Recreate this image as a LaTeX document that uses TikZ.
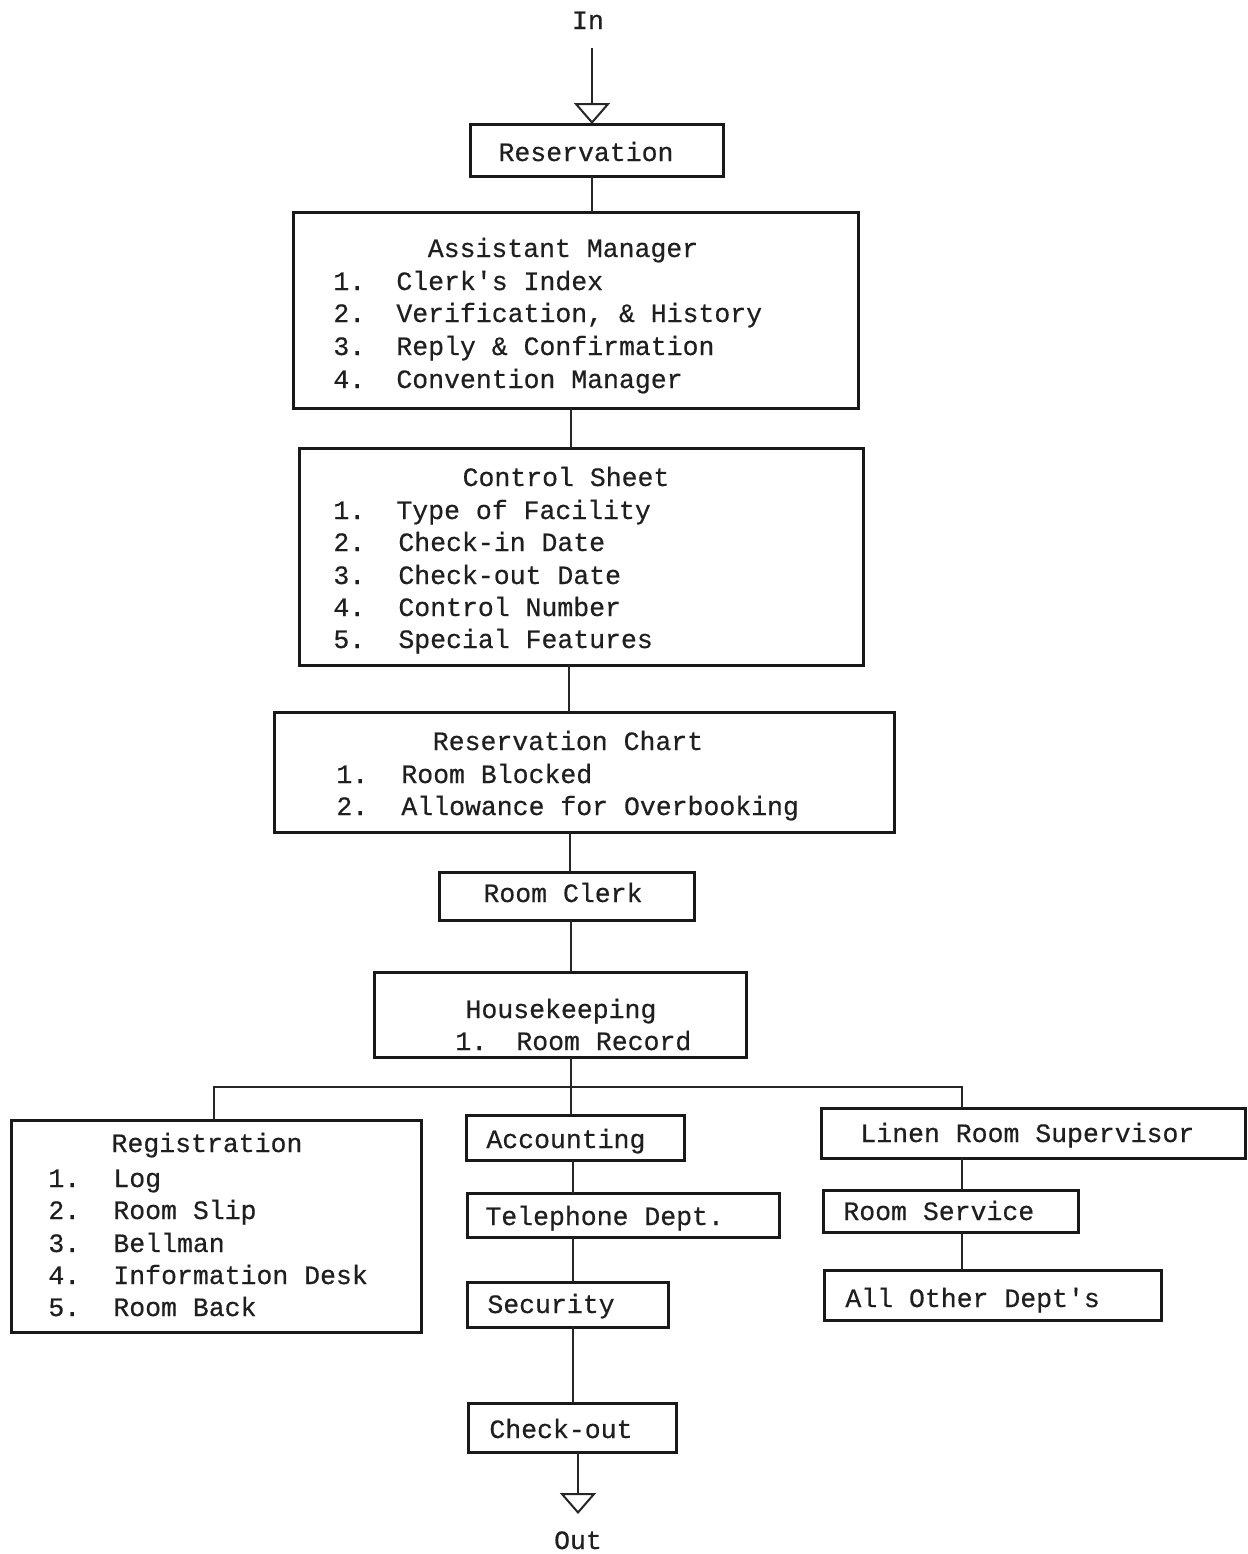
\documentclass[tikz,border=0pt]{standalone}
\usepackage{fontspec}
\setmonofont[FakeBold=0.5]{Liberation Mono}
\usetikzlibrary{arrows.meta}
\begin{document}
\begin{tikzpicture}[x=0.5pt,y=-0.5pt,
  box/.style 2 args={draw=black!90, line width=1.5pt, inner sep=0pt, outer sep=0pt,
    minimum width=#1*0.5pt, minimum height=#2*0.5pt},
  txt/.style={font=\ttfamily\fontsize{13.25}{16}\selectfont, text=black!88, inner sep=0pt,
    text height=11pt, text depth=2pt},
  lt/.style={txt, anchor=west},
  conn/.style={line width=1pt, draw=black!85},
  tip/.style={-{Triangle[open, length=10.5pt, width=18pt, line width=1pt]}},
]
\useasboundingbox (0,0) rectangle (1248,1554);

% ---------- boxes ----------
\node[box={253}{52}]  (res)   at (596.5,150) {};
\node[box={565}{196}] (am)    at (575.5,310) {};
\node[box={564}{217}] (cs)    at (581,556.5) {};
\node[box={620}{120}] (rc)    at (584,772) {};
\node[box={255}{48}]  (clerk) at (566.5,896) {};
\node[box={372}{85}]  (hk)    at (560,1014.5) {};
\node[box={410}{212}] (reg)   at (216,1226) {};
\node[box={218}{45}]  (acc)   at (575,1137.5) {};
\node[box={312}{44}]  (tel)   at (623,1215) {};
\node[box={201}{45}]  (sec)   at (567.5,1304.5) {};
\node[box={208}{49}]  (co)    at (572,1427.5) {};
\node[box={424}{50}]  (linen) at (1033,1133) {};
\node[box={255}{42}]  (rs)    at (950.5,1211) {};
\node[box={337}{50}]  (all)   at (992.5,1295) {};

% ---------- texts ----------
\node[txt] (in)  at (588,20) {In};
\node[txt] (out) at (578,1540) {Out};
\node[txt] (rest) at (586,152) {Reservation};

\node[txt] (amt) at (563,248) {Assistant Manager};
\node[lt] (am1n) at (333,281) {1.};
\node[lt] (am1)  at (396,281) {Clerk's Index};
\node[lt] (am2n) at (333,313) {2.};
\node[lt] (am2)  at (396,313) {Verification, \& History};
\node[lt] (am3n) at (333,346) {3.};
\node[lt] (am3)  at (396,346) {Reply \& Confirmation};
\node[lt] (am4n) at (333,379) {4.};
\node[lt] (am4)  at (396,379) {Convention Manager};

\node[txt] (cst) at (566,477) {Control Sheet};
\node[lt] (cs1n) at (333,510) {1.};
\node[lt] (cs1)  at (396,510) {Type of Facility};
\node[lt] (cs2n) at (333,542) {2.};
\node[lt] (cs2)  at (398,542) {Check-in Date};
\node[lt] (cs3n) at (333,575) {3.};
\node[lt] (cs3)  at (398,575) {Check-out Date};
\node[lt] (cs4n) at (333,607) {4.};
\node[lt] (cs4)  at (398,607) {Control Number};
\node[lt] (cs5n) at (333,639) {5.};
\node[lt] (cs5)  at (398,639) {Special Features};

\node[txt] (rct) at (568,741) {Reservation Chart};
\node[lt] (rc1n) at (336,774) {1.};
\node[lt] (rc1)  at (401,774) {Room Blocked};
\node[lt] (rc2n) at (336,806) {2.};
\node[lt] (rc2)  at (401,806) {Allowance for Overbooking};

\node[txt] (clerkt) at (563,893) {Room Clerk};

\node[txt] (hkt) at (561,1009) {Housekeeping};
\node[lt] (hk1n) at (455,1041) {1.};
\node[lt] (hk1)  at (516,1041) {Room Record};

\node[txt] (regt) at (207,1143) {Registration};
\node[lt] (reg1n) at (48,1178) {1.};
\node[lt] (reg1)  at (113,1178) {Log};
\node[lt] (reg2n) at (48,1210) {2.};
\node[lt] (reg2)  at (113,1210) {Room Slip};
\node[lt] (reg3n) at (48,1243) {3.};
\node[lt] (reg3)  at (113,1243) {Bellman};
\node[lt] (reg4n) at (48,1275) {4.};
\node[lt] (reg4)  at (113,1275) {Information Desk};
\node[lt] (reg5n) at (48,1307) {5.};
\node[lt] (reg5)  at (113,1307) {Room Back};

\node[lt] (acct)   at (486,1139) {Accounting};
\node[lt] (telt)   at (485,1216) {Telephone Dept.};
\node[lt] (sect)   at (487,1304) {Security};
\node[lt] (cot)    at (489,1429) {Check-out};
\node[lt] (linent) at (860,1133) {Linen Room Supervisor};
\node[lt] (rst)    at (843,1211) {Room Service};
\node[lt] (allt)   at (845,1298) {All Other Dept's};

% ---------- connector guides ----------
\coordinate (intop) at (592,48);
\coordinate (x1) at (592,0);
\coordinate (x2) at (571,0);
\coordinate (x3) at (569,0);
\coordinate (x4) at (570,0);
\coordinate (x5) at (573,0);
\coordinate (xl) at (214,0);
\coordinate (xr) at (962,0);
\coordinate (bus) at (571,1087);
\coordinate (outtip) at (578,1514);

% ---------- connectors ----------
\draw[conn, tip] (intop) -- (res.north -| intop);
\draw[conn] (res.south -| x1) -- (am.north -| x1);
\draw[conn] (am.south -| x2) -- (cs.north -| x2);
\draw[conn] (cs.south -| x3) -- (rc.north -| x3);
\draw[conn] (rc.south -| x4) -- (clerk.north -| x4);
\draw[conn] (clerk.south -| x2) -- (hk.north -| x2);
\draw[conn] (hk.south -| x2) -- (bus);
\draw[conn] (bus) -- (acc.north -| bus);
\draw[conn] (reg.north -| xl) -- (xl |- bus) -- (xr |- bus) -- (linen.north -| xr);
\draw[conn] (acc.south -| x5) -- (tel.north -| x5);
\draw[conn] (tel.south -| x5) -- (sec.north -| x5);
\draw[conn] (sec.south -| x5) -- (co.north -| x5);
\draw[conn, tip] (co.south -| outtip) -- (outtip);
\draw[conn] (linen.south -| xr) -- (rs.north -| xr);
\draw[conn] (rs.south -| xr) -- (all.north -| xr);
\end{tikzpicture}
\end{document}
